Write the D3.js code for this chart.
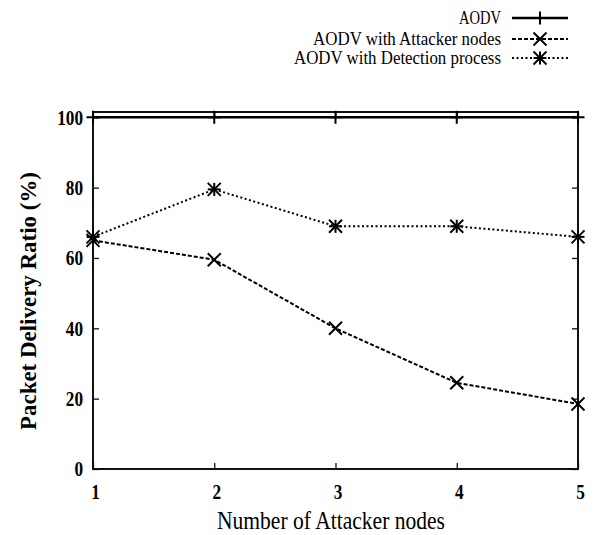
<!DOCTYPE html>
<html>
<head>
<meta charset="utf-8">
<script src="https://cdn.jsdelivr.net/npm/d3@7"></script>
<style>
  body { margin: 0; background: #fff; }
  svg { font-family: "Liberation Serif", "DejaVu Serif", serif; }
</style>
</head>
<body>
<div id="chart"></div>
<script>
// values
var attackers = [1, 2, 3, 4, 5];
var aodv = [100, 100, 100, 100, 100];
var withAttacker = [65, 59.5, 40, 24.5, 18.5];
var withDetection = [66, 79.5, 69, 69, 66];
var yTicks = [0, 20, 40, 60, 80, 100];
var xTicks = [1, 2, 3, 4, 5];
var names = ["AODV", "AODV with Attacker nodes", "AODV with Detection process"];

var width = 603, height = 535,
  plotL = 93, plotR = 578, plotT = 112, plotB = 469;

var svg = d3.select("#chart").append("svg")
  .attr("width", width)
  .attr("height", height);

var x = d3.scaleLinear().domain([1, 5]).range([plotL, plotR]);
var y = d3.scaleLinear().domain([0, 101.5]).range([plotB, plotT]);

// frame
svg.append("rect")
  .attr("x", plotL).attr("y", plotT)
  .attr("width", plotR - plotL).attr("height", plotB - plotT)
  .attr("fill", "none").attr("stroke", "#111").attr("stroke-width", 2);

// axes (ticks inside, mirrored)
var yAxis = svg.append("g").attr("transform", "translate(" + plotL + ",0)")
  .call(d3.axisLeft(y).tickValues(yTicks).tickSizeInner(-6).tickSizeOuter(0).tickPadding(10));
var yAxisR = svg.append("g").attr("transform", "translate(" + plotR + ",0)")
  .call(d3.axisRight(y).tickValues(yTicks).tickSizeInner(-6).tickSizeOuter(0).tickFormat(""));
var xAxis = svg.append("g").attr("transform", "translate(0," + plotB + ")")
  .call(d3.axisBottom(x).tickValues(xTicks).tickFormat(d3.format("d"))
    .tickSizeInner(-6).tickSizeOuter(0).tickPadding(15));
var xAxisT = svg.append("g").attr("transform", "translate(0," + plotT + ")")
  .call(d3.axisTop(x).tickValues(xTicks).tickSizeInner(-6).tickSizeOuter(0).tickFormat(""));

[yAxis, yAxisR, xAxis, xAxisT].forEach(function (g) {
  g.select(".domain").remove();
  g.selectAll(".tick line").attr("stroke", "#111").attr("stroke-width", 1.3);
  g.selectAll("text")
    .attr("font-family", "Liberation Serif, serif")
    .attr("font-size", 21)
    .attr("font-weight", "bold")
    .attr("fill", "#000")
    .attr("textLength", function () { return this.textContent.length * 8.6; })
    .attr("lengthAdjust", "spacingAndGlyphs");
});
xAxis.selectAll("text").attr("dx", 2);

// series
var line = d3.line()
  .x(function (d, i) { return x(attackers[i]); })
  .y(function (d) { return y(d); });

var series = [
  { name: names[0], values: aodv, dash: null, width: 2.6, mark: "plus" },
  { name: names[1], values: withAttacker, dash: "4,2", width: 2, mark: "cross" },
  { name: names[2], values: withDetection, dash: "2,2.5", width: 2, mark: "star" }
];

function marker(g, type, cx, cy) {
  var s = 6.5, p = [];
  if (type === "plus" || type === "star") {
    p.push([cx - s, cy, cx + s, cy], [cx, cy - s, cx, cy + s]);
  }
  if (type === "cross" || type === "star") {
    p.push([cx - s, cy - s, cx + s, cy + s], [cx - s, cy + s, cx + s, cy - s]);
  }
  p.forEach(function (l) {
    g.append("line")
      .attr("x1", l[0]).attr("y1", l[1]).attr("x2", l[2]).attr("y2", l[3])
      .attr("stroke", "#000").attr("stroke-width", 2);
  });
}

series.forEach(function (s) {
  svg.append("path")
    .datum(s.values)
    .attr("d", line)
    .attr("fill", "none")
    .attr("stroke", "#000")
    .attr("stroke-width", s.width)
    .attr("stroke-dasharray", s.dash);
  var mg = svg.append("g");
  s.values.forEach(function (v, i) { marker(mg, s.mark, x(attackers[i]), y(v)); });
});

// legend
var legY = [18, 39, 58];
var legLen = [42, 188, 207];
series.forEach(function (s, i) {
  svg.append("text")
    .attr("x", 501).attr("y", legY[i] + 6)
    .attr("text-anchor", "end")
    .attr("font-size", 19)
    .attr("textLength", legLen[i])
    .attr("lengthAdjust", "spacingAndGlyphs")
    .text(s.name);
  svg.append("line")
    .attr("x1", 512).attr("x2", 568)
    .attr("y1", legY[i]).attr("y2", legY[i])
    .attr("stroke", "#000")
    .attr("stroke-width", s.width)
    .attr("stroke-dasharray", s.dash);
  marker(svg, s.mark, 540, legY[i]);
});

// axis titles
svg.append("text")
  .attr("x", 331).attr("y", 529)
  .attr("text-anchor", "middle")
  .attr("font-size", 25)
  .attr("textLength", 228)
  .attr("lengthAdjust", "spacingAndGlyphs")
  .text("Number of Attacker nodes");

svg.append("text")
  .attr("transform", "translate(36,301) rotate(-90)")
  .attr("text-anchor", "middle")
  .attr("font-size", 23)
  .attr("font-weight", "bold")
  .attr("textLength", 258)
  .attr("lengthAdjust", "spacingAndGlyphs")
  .text("Packet Delivery Ratio (%)");
</script>
</body>
</html>
